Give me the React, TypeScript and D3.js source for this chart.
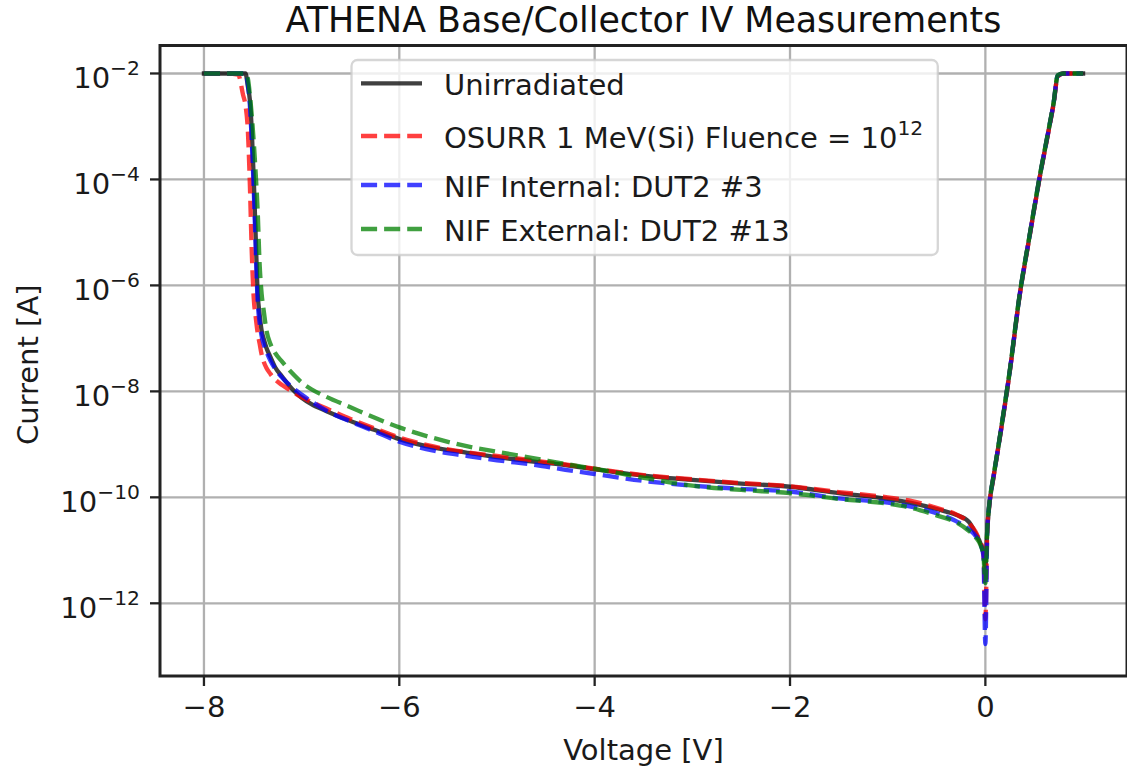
import React from "react";
import * as d3 from "d3";

// ---------- data ----------
// Voltage grid [V]
const voltage = [
  -8, -7.8, -7.65, -7.6, -7.575, -7.55, -7.53, -7.51, -7.49, -7.47,
  -7.45, -7.43, -7.41, -7.39, -7.36, -7.32, -7.27, -7.2, -7.1, -7.0,
  -6.9, -6.75, -6.5, -6.25, -6.0, -5.65, -5.3, -5.0, -4.6, -4.3,
  -4.0, -3.5, -3.0, -2.5, -2.0, -1.5, -1.0, -0.75, -0.5, -0.3,
  -0.17, -0.1, -0.05, -0.02, 0, 0.02, 0.04, 0.08, 0.12, 0.16,
  0.25, 0.35, 0.45, 0.55, 0.65, 0.7, 0.74, 0.8, 0.9, 1.0,
];

// log10(Current [A]) for each series
const unirradiatedLogI = [
  -2, -2, -2, -2, -2.0, -2.25, -2.5, -3.1, -4.0, -5.1,
  -6.15, -6.55, -6.85, -7.0, -7.18, -7.35, -7.55, -7.72, -7.95, -8.12,
  -8.24, -8.37, -8.56, -8.73, -8.9, -9.06, -9.16, -9.24, -9.33, -9.39,
  -9.47, -9.59, -9.67, -9.74, -9.8, -9.92, -10.03, -10.11, -10.22, -10.33,
  -10.46, -10.68, -10.87, -11.05, -11.3, -10.6, -10.15, -9.65, -9.2, -8.73,
  -7.62, -6.2, -5.1, -4.02, -3.05, -2.55, -2.05, -2, -2, -2,
];

const osurrLogI = [
  -2, -2, -2.02, -2.4, -2.6, -3.1, -4.1, -5.4, -6.25, -6.6,
  -6.9, -7.1, -7.3, -7.43, -7.56, -7.67, -7.78, -7.88, -8.0, -8.11,
  -8.2, -8.32, -8.52, -8.7, -8.87, -9.04, -9.15, -9.22, -9.31, -9.38,
  -9.46, -9.58, -9.66, -9.73, -9.79, -9.9, -10.0, -10.07, -10.2, -10.32,
  -10.48, -10.65, -10.85, -11.0, -12.3, -10.62, -10.16, -9.66, -9.2, -8.74,
  -7.63, -6.21, -5.11, -4.03, -3.06, -2.56, -2.06, -2, -2, -2,
];

const nifInternalLogI = [
  -2, -2, -2, -2, -2, -2.2, -2.6, -3.3, -4.2, -5.3,
  -6.3, -6.7, -6.95, -7.1, -7.25, -7.42, -7.58, -7.74, -7.92, -8.06,
  -8.19, -8.36, -8.57, -8.76, -8.95, -9.12, -9.22, -9.3, -9.39, -9.48,
  -9.56, -9.69, -9.78, -9.84, -9.89, -10.02, -10.1, -10.18, -10.3, -10.45,
  -10.6, -10.73, -10.88, -11.1, -12.77, -10.6, -10.14, -9.64, -9.19, -8.72,
  -7.61, -6.19, -5.09, -4.01, -3.04, -2.54, -2.04, -2, -2, -2,
];

const nifExternalLogI = [
  -2, -2, -2, -2, -2, -2.1, -2.4, -2.8, -3.3, -3.9,
  -4.6, -5.6, -6.15, -6.45, -6.85, -7.1, -7.28, -7.44, -7.65, -7.83,
  -7.96, -8.1, -8.3, -8.5, -8.68, -8.88, -9.04, -9.14, -9.27, -9.37,
  -9.46, -9.63, -9.78, -9.86, -9.92, -10.03, -10.12, -10.2, -10.34, -10.47,
  -10.63, -10.75, -10.9, -11.1, -11.62, -10.58, -10.13, -9.63, -9.18, -8.71,
  -7.6, -6.18, -5.08, -4.0, -3.03, -2.53, -2.03, -2, -2, -2,
];

const legendLabels = [
  "Unirradiated",
  "OSURR 1 MeV(Si) Fluence = 10",
  "NIF Internal: DUT2 #3",
  "NIF External: DUT2 #13",
];
const legendSuperscripts = ["", "12", "", ""];
const seriesColors = ["#000000", "#ff0000", "#0000ff", "#008000"];

const xTickValues = [-8, -6, -4, -2, 0];
const yTickExponents = [-2, -4, -6, -8, -10, -12];

const titleText = "ATHENA Base/Collector IV Measurements";
const xLabelText = "Voltage [V]";
const yLabelText = "Current [A]";

// ---------- layout ----------
const W = 1127;
const H = 769;
const plot = { l: 160, r: 1127, t: 45.5, b: 676 };
const FONT = "'DejaVu Sans', 'Noto Sans', sans-serif";
const FS = 29;
const SUP_FS = 20.3;
const legendRowY = [83.3, 136, 185, 229];

export default function App() {
  const x = d3.scaleLinear().domain([-8.45, 1.45]).range([plot.l, plot.r]);
  const y = d3
    .scaleLog()
    .domain([Math.pow(10, -13.372), Math.pow(10, -1.472)])
    .range([plot.b, plot.t]);

  const seriesLogs = [unirradiatedLogI, osurrLogI, nifInternalLogI, nifExternalLogI];

  const line = d3
    .line<number>()
    .x((_, i) => x(voltage[i]))
    .y((d) => y(Math.pow(10, d)))
    .curve(d3.curveMonotoneX);

  const dash = "16.1 7";
  const lw = 4.35;
  const gridColor = "#b0b0b0";
  const spineColor = "#222222";
  const textColor = "#1a1a1a";

  return (
    <svg
      width={W}
      height={H}
      style={{ position: "absolute", left: 0, top: 0, background: "#fff" }}
      fontFamily={FONT}
    >
      <defs>
        <clipPath id="plotClip">
          <rect x={plot.l} y={plot.t} width={plot.r - plot.l} height={plot.b - plot.t} />
        </clipPath>
      </defs>
      <rect x={0} y={0} width={W} height={H} fill="#ffffff" />

      {/* grid */}
      <g>
        {xTickValues.map((v) => (
          <line
            key={"gx" + v}
            x1={x(v)}
            x2={x(v)}
            y1={plot.t}
            y2={plot.b}
            stroke={gridColor}
            strokeWidth={2.3}
          />
        ))}
        {yTickExponents.map((e) => (
          <line
            key={"gy" + e}
            x1={plot.l}
            x2={plot.r}
            y1={y(Math.pow(10, e))}
            y2={y(Math.pow(10, e))}
            stroke={gridColor}
            strokeWidth={2.3}
          />
        ))}
      </g>

      {/* data */}
      <g clipPath="url(#plotClip)">
        {seriesLogs.map((vals, i) => (
          <path
            key={"s" + i}
            d={line(vals) || ""}
            fill="none"
            stroke={seriesColors[i]}
            strokeOpacity={0.75}
            strokeWidth={lw}
            strokeDasharray={i === 0 ? undefined : dash}
            strokeLinejoin="round"
            strokeLinecap={i === 0 ? "square" : "butt"}
          />
        ))}
      </g>

      {/* spines */}
      <rect
        x={plot.l}
        y={plot.t}
        width={plot.r - plot.l}
        height={plot.b - plot.t}
        fill="none"
        stroke={spineColor}
        strokeWidth={3}
      />

      {/* x ticks */}
      {xTickValues.map((v) => (
        <g key={"xt" + v}>
          <line x1={x(v)} x2={x(v)} y1={plot.b} y2={plot.b + 10} stroke={spineColor} strokeWidth={2.3} />
          <text x={x(v)} y={716.6} textAnchor="middle" fontSize={FS} fill={textColor}>
            {v < 0 ? "\u2212" + Math.abs(v) : String(v)}
          </text>
        </g>
      ))}

      {/* y ticks */}
      {yTickExponents.map((e) => {
        const yy = y(Math.pow(10, e));
        return (
          <g key={"yt" + e}>
            <line x1={plot.l - 10} x2={plot.l} y1={yy} y2={yy} stroke={spineColor} strokeWidth={2.3} />
            <text x={140} y={yy + 14.5} textAnchor="end" fontSize={FS} fill={textColor}>
              10
              <tspan dy={-13} fontSize={SUP_FS}>
                {"\u2212" + Math.abs(e)}
              </tspan>
            </text>
          </g>
        );
      })}

      {/* axis labels and title */}
      <text x={(plot.l + plot.r) / 2} y={760} textAnchor="middle" fontSize={FS} fill={textColor}>
        {xLabelText}
      </text>
      <text
        transform={`translate(38, ${(plot.t + plot.b) / 2 + 4}) rotate(-90)`}
        textAnchor="middle"
        fontSize={FS}
        fill={textColor}
      >
        {yLabelText}
      </text>
      <text x={(plot.l + plot.r) / 2} y={31.7} textAnchor="middle" fontSize={34.8} fill="#111111">
        {titleText}
      </text>

      {/* legend */}
      <g>
        <rect
          x={351.5}
          y={60}
          width={586.3}
          height={195}
          rx={6}
          ry={6}
          fill="#ffffff"
          fillOpacity={0.8}
          stroke="#cccccc"
          strokeOpacity={0.8}
          strokeWidth={2.3}
        />
        {legendLabels.map((lab, i) => (
          <g key={"lg" + i}>
            <line
              x1={361}
              x2={422}
              y1={legendRowY[i]}
              y2={legendRowY[i]}
              stroke={seriesColors[i]}
              strokeOpacity={0.75}
              strokeWidth={lw}
              strokeDasharray={i === 0 ? undefined : dash}
            />
            <text x={444} y={legendRowY[i] + 11.7} fontSize={FS} fill={textColor}>
              {lab}
              {legendSuperscripts[i] ? (
                <tspan dy={-13} fontSize={SUP_FS}>
                  {legendSuperscripts[i]}
                </tspan>
              ) : null}
            </text>
          </g>
        ))}
      </g>
    </svg>
  );
}
